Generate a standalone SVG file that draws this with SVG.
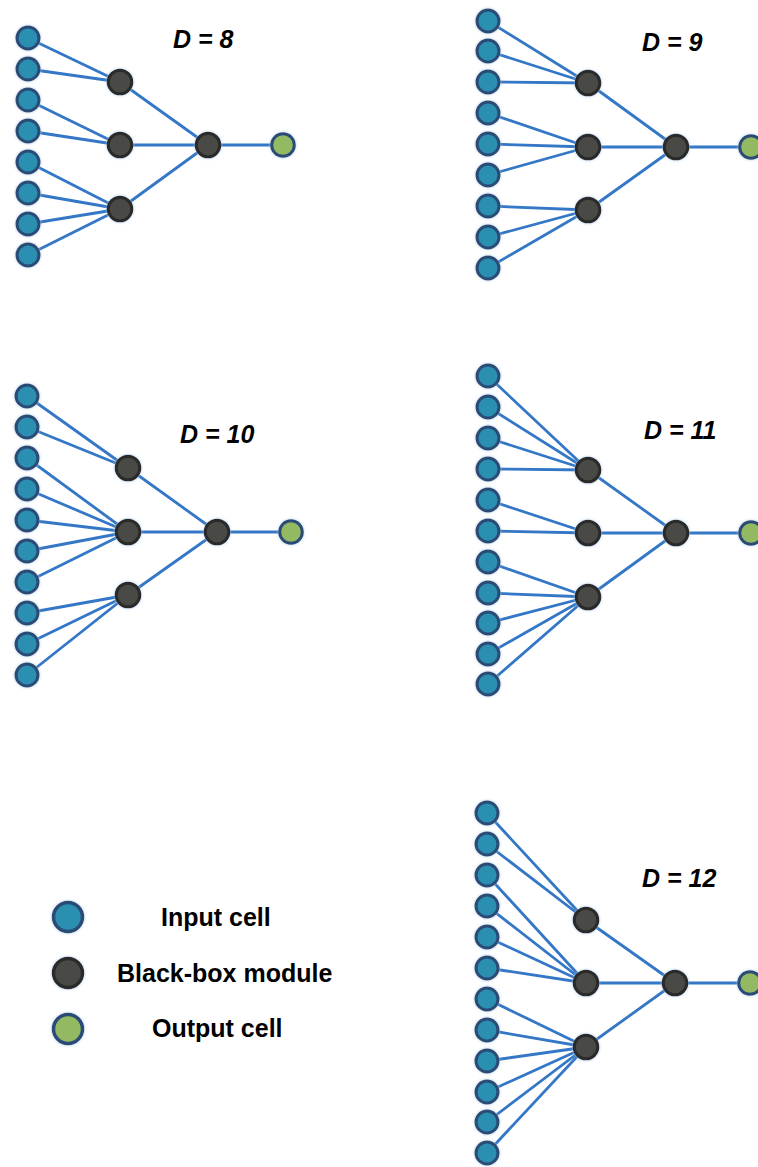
<svg xmlns="http://www.w3.org/2000/svg" width="758" height="1167" viewBox="0 0 758 1167">
<defs>
<style>
.in{fill:#2a8fb1;stroke:#2c4c75;stroke-width:3;filter:url(#glow)}
.bb{fill:#4a4844;stroke:#2a2a2a;stroke-width:3;filter:url(#glow)}
.out{fill:#93ba62;stroke:#2c4c75;stroke-width:3;filter:url(#glow)}
.lg{stroke-width:3.5}
.edges line{stroke:#3377c6;stroke-width:2.8;stroke-linecap:round}
.dl{font-family:"Liberation Sans",Arial,sans-serif;font-weight:bold;font-style:italic;font-size:25px;fill:#000}
.lt{font-family:"Liberation Sans",Arial,sans-serif;font-weight:bold;font-size:25px;fill:#000}
</style>
<filter id="glow" x="-40%" y="-40%" width="180%" height="180%">
<feGaussianBlur in="SourceAlpha" stdDeviation="1.6" result="b"/>
<feFlood flood-color="#a8c6e6" flood-opacity="0.9"/>
<feComposite in2="b" operator="in" result="s"/>
<feMerge><feMergeNode in="s"/><feMergeNode in="SourceGraphic"/></feMerge>
</filter>
</defs>
<rect width="758" height="1167" fill="#fff"/>

<!-- D = 8 -->
<g id="d8">
<g class="edges" id="d8-edges">
<line x1="28" y1="38" x2="120" y2="82"/><line x1="28" y1="69" x2="120" y2="82"/>
<line x1="28" y1="100" x2="120" y2="145"/><line x1="28" y1="131" x2="120" y2="145"/>
<line x1="28" y1="162" x2="120" y2="209"/><line x1="28" y1="193" x2="120" y2="209"/><line x1="28" y1="224" x2="120" y2="209"/><line x1="28" y1="255" x2="120" y2="209"/>
<line x1="120" y1="82" x2="208" y2="145"/><line x1="120" y1="145" x2="208" y2="145"/><line x1="120" y1="209" x2="208" y2="145"/>
<line x1="208" y1="145" x2="283" y2="145"/>
</g>
<g id="d8-in1"><circle class="in" cx="28" cy="38" r="11"/></g>
<g id="d8-in2"><circle class="in" cx="28" cy="69" r="11"/></g>
<g id="d8-in3"><circle class="in" cx="28" cy="100" r="11"/></g>
<g id="d8-in4"><circle class="in" cx="28" cy="131" r="11"/></g>
<g id="d8-in5"><circle class="in" cx="28" cy="162" r="11"/></g>
<g id="d8-in6"><circle class="in" cx="28" cy="193" r="11"/></g>
<g id="d8-in7"><circle class="in" cx="28" cy="224" r="11"/></g>
<g id="d8-in8"><circle class="in" cx="28" cy="255" r="11"/></g>
<g id="d8-h1"><circle class="bb" cx="120" cy="82" r="11.8"/></g>
<g id="d8-h2"><circle class="bb" cx="120" cy="145" r="11.8"/></g>
<g id="d8-h3"><circle class="bb" cx="120" cy="209" r="11.8"/></g>
<g id="d8-c"><circle class="bb" cx="208" cy="145" r="11.8"/></g>
<g id="d8-out"><circle class="out" cx="283" cy="145" r="11.3"/></g>
<text class="dl" x="173" y="48">D = 8</text>
</g>

<!-- D = 9 -->
<g id="d9">
<g class="edges" id="d9-edges">
<line x1="488" y1="21" x2="588" y2="83"/><line x1="488" y1="51" x2="588" y2="83"/><line x1="488" y1="82" x2="588" y2="83"/>
<line x1="488" y1="113" x2="588" y2="147"/><line x1="488" y1="144" x2="588" y2="147"/><line x1="488" y1="175" x2="588" y2="147"/>
<line x1="488" y1="206" x2="588" y2="210"/><line x1="488" y1="237" x2="588" y2="210"/><line x1="488" y1="268" x2="588" y2="210"/>
<line x1="588" y1="83" x2="676" y2="147"/><line x1="588" y1="147" x2="676" y2="147"/><line x1="588" y1="210" x2="676" y2="147"/>
<line x1="676" y1="147" x2="751" y2="147"/>
</g>
<g id="d9-in1"><circle class="in" cx="488" cy="21" r="11"/></g>
<g id="d9-in2"><circle class="in" cx="488" cy="51" r="11"/></g>
<g id="d9-in3"><circle class="in" cx="488" cy="82" r="11"/></g>
<g id="d9-in4"><circle class="in" cx="488" cy="113" r="11"/></g>
<g id="d9-in5"><circle class="in" cx="488" cy="144" r="11"/></g>
<g id="d9-in6"><circle class="in" cx="488" cy="175" r="11"/></g>
<g id="d9-in7"><circle class="in" cx="488" cy="206" r="11"/></g>
<g id="d9-in8"><circle class="in" cx="488" cy="237" r="11"/></g>
<g id="d9-in9"><circle class="in" cx="488" cy="268" r="11"/></g>
<g id="d9-h1"><circle class="bb" cx="588" cy="83" r="11.8"/></g>
<g id="d9-h2"><circle class="bb" cx="588" cy="147" r="11.8"/></g>
<g id="d9-h3"><circle class="bb" cx="588" cy="210" r="11.8"/></g>
<g id="d9-c"><circle class="bb" cx="676" cy="147" r="11.8"/></g>
<g id="d9-out"><circle class="out" cx="751" cy="147" r="11.3"/></g>
<text class="dl" x="642" y="51">D = 9</text>
</g>

<!-- D = 10 -->
<g id="d10">
<g class="edges" id="d10-edges">
<line x1="27" y1="396" x2="128" y2="468"/><line x1="27" y1="427" x2="128" y2="468"/>
<line x1="27" y1="458" x2="128" y2="532"/><line x1="27" y1="489" x2="128" y2="532"/><line x1="27" y1="520" x2="128" y2="532"/><line x1="27" y1="551" x2="128" y2="532"/><line x1="27" y1="582" x2="128" y2="532"/>
<line x1="27" y1="613" x2="128" y2="595"/><line x1="27" y1="644" x2="128" y2="595"/><line x1="27" y1="675" x2="128" y2="595"/>
<line x1="128" y1="468" x2="217" y2="532"/><line x1="128" y1="532" x2="217" y2="532"/><line x1="128" y1="595" x2="217" y2="532"/>
<line x1="217" y1="532" x2="291" y2="532"/>
</g>
<g id="d10-in1"><circle class="in" cx="27" cy="396" r="11"/></g>
<g id="d10-in2"><circle class="in" cx="27" cy="427" r="11"/></g>
<g id="d10-in3"><circle class="in" cx="27" cy="458" r="11"/></g>
<g id="d10-in4"><circle class="in" cx="27" cy="489" r="11"/></g>
<g id="d10-in5"><circle class="in" cx="27" cy="520" r="11"/></g>
<g id="d10-in6"><circle class="in" cx="27" cy="551" r="11"/></g>
<g id="d10-in7"><circle class="in" cx="27" cy="582" r="11"/></g>
<g id="d10-in8"><circle class="in" cx="27" cy="613" r="11"/></g>
<g id="d10-in9"><circle class="in" cx="27" cy="644" r="11"/></g>
<g id="d10-in10"><circle class="in" cx="27" cy="675" r="11"/></g>
<g id="d10-h1"><circle class="bb" cx="128" cy="468" r="11.8"/></g>
<g id="d10-h2"><circle class="bb" cx="128" cy="532" r="11.8"/></g>
<g id="d10-h3"><circle class="bb" cx="128" cy="595" r="11.8"/></g>
<g id="d10-c"><circle class="bb" cx="217" cy="532" r="11.8"/></g>
<g id="d10-out"><circle class="out" cx="291" cy="532" r="11.3"/></g>
<text class="dl" x="180" y="443">D = 10</text>
</g>

<!-- D = 11 -->
<g id="d11">
<g class="edges" id="d11-edges">
<line x1="488" y1="376" x2="588" y2="470"/><line x1="488" y1="407" x2="588" y2="470"/><line x1="488" y1="438" x2="588" y2="470"/><line x1="488" y1="469" x2="588" y2="470"/>
<line x1="488" y1="500" x2="588" y2="533"/><line x1="488" y1="531" x2="588" y2="533"/>
<line x1="488" y1="562" x2="588" y2="597"/><line x1="488" y1="593" x2="588" y2="597"/><line x1="488" y1="623" x2="588" y2="597"/><line x1="488" y1="654" x2="588" y2="597"/><line x1="488" y1="684" x2="588" y2="597"/>
<line x1="588" y1="470" x2="676" y2="533"/><line x1="588" y1="533" x2="676" y2="533"/><line x1="588" y1="597" x2="676" y2="533"/>
<line x1="676" y1="533" x2="751" y2="533"/>
</g>
<g id="d11-in1"><circle class="in" cx="488" cy="376" r="11"/></g>
<g id="d11-in2"><circle class="in" cx="488" cy="407" r="11"/></g>
<g id="d11-in3"><circle class="in" cx="488" cy="438" r="11"/></g>
<g id="d11-in4"><circle class="in" cx="488" cy="469" r="11"/></g>
<g id="d11-in5"><circle class="in" cx="488" cy="500" r="11"/></g>
<g id="d11-in6"><circle class="in" cx="488" cy="531" r="11"/></g>
<g id="d11-in7"><circle class="in" cx="488" cy="562" r="11"/></g>
<g id="d11-in8"><circle class="in" cx="488" cy="593" r="11"/></g>
<g id="d11-in9"><circle class="in" cx="488" cy="623" r="11"/></g>
<g id="d11-in10"><circle class="in" cx="488" cy="654" r="11"/></g>
<g id="d11-in11"><circle class="in" cx="488" cy="684" r="11"/></g>
<g id="d11-h1"><circle class="bb" cx="588" cy="470" r="11.8"/></g>
<g id="d11-h2"><circle class="bb" cx="588" cy="533" r="11.8"/></g>
<g id="d11-h3"><circle class="bb" cx="588" cy="597" r="11.8"/></g>
<g id="d11-c"><circle class="bb" cx="676" cy="533" r="11.8"/></g>
<g id="d11-out"><circle class="out" cx="751" cy="533" r="11.3"/></g>
<text class="dl" x="644" y="439">D = 11</text>
</g>

<!-- D = 12 -->
<g id="d12">
<g class="edges" id="d12-edges">
<line x1="487" y1="813" x2="586" y2="920"/><line x1="487" y1="844" x2="586" y2="920"/>
<line x1="487" y1="875" x2="586" y2="983"/><line x1="487" y1="906" x2="586" y2="983"/><line x1="487" y1="937" x2="586" y2="983"/><line x1="487" y1="968" x2="586" y2="983"/>
<line x1="487" y1="999" x2="586" y2="1047"/><line x1="487" y1="1030" x2="586" y2="1047"/><line x1="487" y1="1061" x2="586" y2="1047"/><line x1="487" y1="1092" x2="586" y2="1047"/><line x1="487" y1="1122" x2="586" y2="1047"/><line x1="487" y1="1153" x2="586" y2="1047"/>
<line x1="586" y1="920" x2="675" y2="983"/><line x1="586" y1="983" x2="675" y2="983"/><line x1="586" y1="1047" x2="675" y2="983"/>
<line x1="675" y1="983" x2="750" y2="983"/>
</g>
<g id="d12-in1"><circle class="in" cx="487" cy="813" r="11"/></g>
<g id="d12-in2"><circle class="in" cx="487" cy="844" r="11"/></g>
<g id="d12-in3"><circle class="in" cx="487" cy="875" r="11"/></g>
<g id="d12-in4"><circle class="in" cx="487" cy="906" r="11"/></g>
<g id="d12-in5"><circle class="in" cx="487" cy="937" r="11"/></g>
<g id="d12-in6"><circle class="in" cx="487" cy="968" r="11"/></g>
<g id="d12-in7"><circle class="in" cx="487" cy="999" r="11"/></g>
<g id="d12-in8"><circle class="in" cx="487" cy="1030" r="11"/></g>
<g id="d12-in9"><circle class="in" cx="487" cy="1061" r="11"/></g>
<g id="d12-in10"><circle class="in" cx="487" cy="1092" r="11"/></g>
<g id="d12-in11"><circle class="in" cx="487" cy="1122" r="11"/></g>
<g id="d12-in12"><circle class="in" cx="487" cy="1153" r="11"/></g>
<g id="d12-h1"><circle class="bb" cx="586" cy="920" r="11.8"/></g>
<g id="d12-h2"><circle class="bb" cx="586" cy="983" r="11.8"/></g>
<g id="d12-h3"><circle class="bb" cx="586" cy="1047" r="11.8"/></g>
<g id="d12-c"><circle class="bb" cx="675" cy="983" r="11.8"/></g>
<g id="d12-out"><circle class="out" cx="750" cy="983" r="11.3"/></g>
<text class="dl" x="642" y="887">D = 12</text>
</g>

<!-- Legend -->
<g id="legend">
<g id="legend-input"><circle class="in lg" cx="68" cy="917" r="14.5"/><text class="lt" x="161" y="926">Input cell</text></g>
<g id="legend-blackbox"><circle class="bb lg" cx="68" cy="973" r="14.5"/><text class="lt" x="117" y="982">Black-box module</text></g>
<g id="legend-output"><circle class="out lg" cx="68" cy="1029" r="14.5"/><text class="lt" x="152" y="1037">Output cell</text></g>
</g>
</svg>
